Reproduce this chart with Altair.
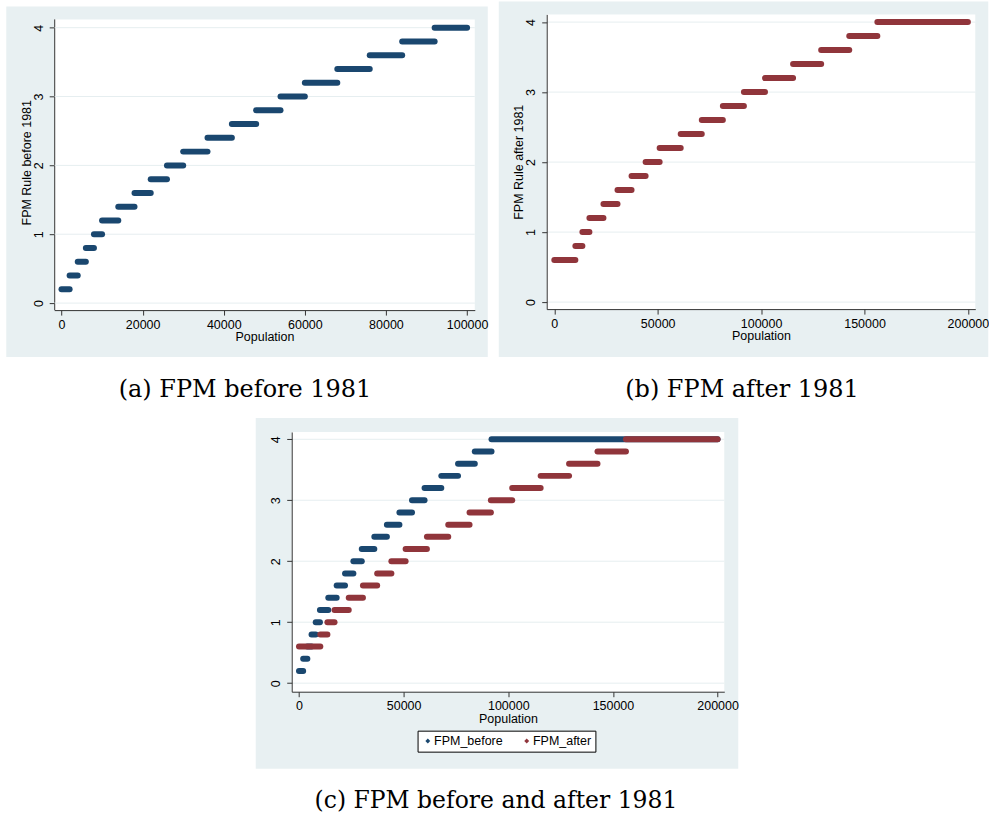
import altair as alt
import pandas as pd

BLUE = "#1a476f"
RED = "#90353b"
BG = "#e8f0f2"
GRID = "#e6eef0"
AXIS = "#333333"
SANS = "Liberation Sans"
SERIF = "DejaVu Serif"

# FPM coefficient brackets before 1981
before_lo = [0, 2000, 4000, 6000, 8000, 10000, 14000, 18000, 22000, 26000,
             30000, 36000, 42000, 48000, 54000, 60000, 68000, 76000, 84000, 92000]
before_hi = [2000, 4000, 6000, 8000, 10000, 14000, 18000, 22000, 26000, 30000,
             36000, 42000, 48000, 54000, 60000, 68000, 76000, 84000, 92000, 200000]
before_val = [0.2, 0.4, 0.6, 0.8, 1.0, 1.2, 1.4, 1.6, 1.8, 2.0,
              2.2, 2.4, 2.6, 2.8, 3.0, 3.2, 3.4, 3.6, 3.8, 4.0]

# FPM coefficient brackets after 1981
after_lo = [0, 10188, 13584, 16980, 23772, 30564, 37356, 44148, 50940,
            61128, 71316, 81504, 91692, 101880, 115464, 129048, 142632, 156216]
after_hi = [10188, 13584, 16980, 23772, 30564, 37356, 44148, 50940, 61128,
            71316, 81504, 91692, 101880, 115464, 129048, 142632, 156216, 200000]
after_val = [0.6, 0.8, 1.0, 1.2, 1.4, 1.6, 1.8, 2.0, 2.2,
             2.4, 2.6, 2.8, 3.0, 3.2, 3.4, 3.6, 3.8, 4.0]

y_ticks = [0, 1, 2, 3, 4]
x_ticks_a = [0, 20000, 40000, 60000, 80000, 100000]
x_ticks_bc = [0, 50000, 100000, 150000, 200000]
series_names = ["FPM_before", "FPM_after"]
captions = ["(a) FPM before 1981", "(b) FPM after 1981", "(c) FPM before and after 1981"]


def seg_df(lo, hi, val, name, xmax):
    rows = [(l, min(h, xmax), v) for l, h, v in zip(lo, hi, val) if l < xmax]
    df = pd.DataFrame(rows, columns=["lo", "hi", "val"])
    df["mid"] = (df["lo"] + df["hi"]) / 2
    df["series"] = name
    return df


def axis_x(ticks, tpad=0):
    return alt.Axis(values=ticks, format="d", title="Population",
                    titleFont=SANS, titleFontSize=12.5, titleFontWeight="normal",
                    titleColor="black", titlePadding=tpad,
                    labelFont=SANS, labelFontSize=12.5, labelColor="black",
                    labelPadding=3, labelFlush=False, labelOverlap=False,
                    tickSize=5, tickColor=AXIS, domainColor=AXIS, grid=False, zindex=1)


def axis_y(title, domain=True):
    kw = dict(values=y_ticks, format="d", labelAngle=270,
              labelFont=SANS, labelFontSize=12.5, labelColor="black",
              labelPadding=4, labelFlush=False, labelOverlap=False,
              tickSize=5, tickColor=AXIS, domain=domain, domainColor=AXIS,
              grid=False, zindex=1)
    if title:
        kw.update(title=title, titleFont=SANS, titleFontSize=12.5, titleFontWeight="normal",
                  titleColor="black", titlePadding=-1)
    else:
        kw.update(title=None)
    return alt.Axis(**kw)


def panel(series, xdom, ydom, w, h, xticks, ytitle, caption, bg, legend=False,
          extend=None, plot_top=0, cap_offset=21, cap_dx=-19, cap_size=24, xtpad=0):
    xs = alt.Scale(domain=xdom, nice=False, zero=False)
    ys = alt.Scale(domain=ydom, nice=False, zero=False)
    xa = axis_x(xticks, xtpad)
    ya = axis_y(ytitle, domain=(plot_top == 0))
    one = pd.DataFrame({"k": [0]})
    layers = []
    if extend is not None:
        ex, ey = extend
        layers.append(alt.Chart(one).mark_rect(opacity=0).encode(
            x=alt.value(ex), x2=alt.value(ex + 1), y=alt.value(ey), y2=alt.value(ey + 1)))
    layers.append(alt.Chart(one).mark_rect(color=BG).encode(
        x=alt.value(bg[0]), x2=alt.value(bg[1]), y=alt.value(bg[2]), y2=alt.value(bg[3])))
    layers.append(alt.Chart(one).mark_rect(color="white").encode(
        x=alt.value(0), x2=alt.value(w), y=alt.value(plot_top), y2=alt.value(h)))
    if plot_top != 0:
        # y-axis line drawn only along the white plot region
        layers.append(alt.Chart(one).mark_rule(color=AXIS, strokeWidth=1).encode(
            x=alt.value(0.5), y=alt.value(plot_top), y2=alt.value(h)))
    layers.append(alt.Chart(pd.DataFrame({"t": y_ticks})).mark_rule(
        color=GRID, strokeWidth=1).encode(y=alt.Y("t:Q", scale=ys, axis=ya)))
    if legend:
        allpts = pd.concat([s[0] for s in series], ignore_index=True)
        layers.append(alt.Chart(allpts).mark_point(filled=True, shape="diamond", size=8, opacity=1).encode(
            x=alt.X("mid:Q", scale=xs, axis=xa),
            y=alt.Y("val:Q", scale=ys, axis=ya),
            color=alt.Color("series:N", scale=alt.Scale(domain=series_names, range=[BLUE, RED]),
                            legend=alt.Legend(orient="none", legendX=126, legendY=299,
                                              direction="horizontal", title=None,
                                              symbolType="diamond", symbolSize=24,
                                              symbolStrokeWidth=0,
                                              labelFont=SANS, labelFontSize=12.5,
                                              labelColor="black", labelOffset=0,
                                              strokeColor="black", fillColor="white",
                                              padding=4, columnPadding=17))))
    for df, col in series:
        layers.append(alt.Chart(df).mark_rule(strokeWidth=6, strokeCap="round", color=col).encode(
            x=alt.X("lo:Q", scale=xs, axis=xa),
            x2="hi:Q",
            y=alt.Y("val:Q", scale=ys, axis=ya)))
    return alt.layer(*layers).properties(
        width=w, height=h,
        title=alt.TitleParams(caption, orient="bottom", anchor="middle", font=SERIF,
                              fontSize=cap_size, fontWeight="normal", color="black",
                              offset=cap_offset, dx=cap_dx))


bef_a = seg_df(before_lo, before_hi, before_val, series_names[0], 100000)
aft_b = seg_df(after_lo, after_hi, after_val, series_names[1], 200000)
bef_c = seg_df(before_lo, before_hi, before_val, series_names[0], 200000)
aft_c = seg_df(after_lo, after_hi, after_val, series_names[1], 200000)

pa = panel([(bef_a, BLUE)], [-1800, 101900], [-0.1016, 4.193], 421, 296, x_ticks_a,
           "FPM Rule before 1981", captions[0], (-48, 434, -8, 343),
           plot_top=5, cap_dx=-19.5)
pb = panel([(aft_b, RED)], [-3670, 203570], [-0.1, 4.11], 429, 295, x_ticks_bc,
           "FPM Rule after 1981", captions[1], (-48, 442, -13, 343), cap_dx=-19)
pc = panel([(bef_c, BLUE), (aft_c, RED)], [-3480, 203200], [-0.14, 4.12], 433, 260, x_ticks_bc,
           None, captions[2], (-36, 447, -14, 337), legend=True,
           extend=(459, 0), cap_offset=20, cap_dx=-12, cap_size=23.5, xtpad=0)

top = alt.hconcat(pa, pb, spacing=10)
chart = alt.vconcat(top, pc, spacing=16, center=True).resolve_scale(color="independent").properties(
    padding={"left": 6, "top": 1, "right": 0, "bottom": 0},
    background="white",
).configure_view(stroke=None)

chart.save("out.html", embed_options={"renderer": "svg", "actions": False})
